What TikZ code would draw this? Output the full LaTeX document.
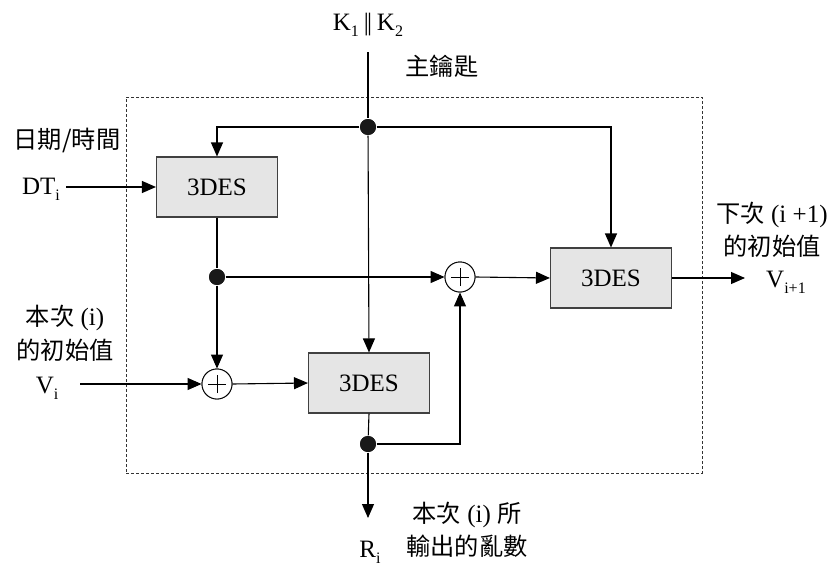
\documentclass[tikz,border=0pt]{standalone}
\usepackage{fontspec}
\setmainfont{Liberation Serif}
\newfontfamily\cjk{Noto Sans CJK TC}[Scale=0.97]
\usetikzlibrary{arrows.meta,calc}
\newcommand\sbs[1]{\raisebox{-0.55ex}{\fontsize{16}{16}\selectfont #1}}
\begin{document}
\begin{tikzpicture}[x=1pt,y=-1pt,
  line width=1.1pt,
  arr/.style={-{Triangle[length=14pt,width=12pt]}},
  desbox/.style={draw=black!75,fill=black!10,minimum width=121pt,minimum height=60pt,inner sep=0pt,font=\fontsize{25}{25}\selectfont},
  xorc/.style={draw,circle,fill=white,minimum size=30pt,inner sep=0pt,line width=0.9pt,
    path picture={\draw[line width=1pt] ([xshift=-9pt]path picture bounding box.center) -- ([xshift=9pt]path picture bounding box.center);
                  \draw[line width=1pt] ([yshift=-9pt]path picture bounding box.center) -- ([yshift=9pt]path picture bounding box.center);}},
  dot/.style={circle,fill=black!90,minimum size=16pt,inner sep=0pt},
  lbl/.style={font=\fontsize{25}{25}\selectfont,inner sep=0pt},
]
\useasboundingbox (0,0) rectangle (831,570);
% dashed frame
\node[draw=black!80,dashed,dash pattern=on 3pt off 2pt,line width=0.8pt,minimum width=576pt,minimum height=376pt,inner sep=0pt] (frame) at (414,285) {};
% blocks
\node[desbox] (b1) at (217,187) {3DES};
\node[desbox] (b2) at (369,383) {3DES};
\node[desbox] (b3) at (611,278) {3DES};
\node[xorc] (x1) at (217,384) {};
\node[xorc] (x2) at (460,277) {};
\node[dot] (dk) at (368,127) {};
\node[dot] (d1) at (217,277) {};
\node[dot] (d2) at (368,444) {};
\coordinate (ktop) at (368,52);
\coordinate (tl) at (217,127);
\coordinate (tr) at (611,127);
\coordinate (dtin) at (66,187);
\coordinate (vin) at (80,384);
\coordinate (vout) at (745,278);
\coordinate (rout) at (368,518);
\coordinate (c2) at (460,444);
% labels
\node[lbl] (k) at (368,25) {K\sbs{1}\kern5pt\textbar\kern-2pt\textbar\kern5pt K\sbs{2}};
\node[lbl] (km) at (442,66) {\cjk 主鑰匙};
\node[lbl] (dt) at (67,140) {\cjk 日期/時間};
\node[lbl] (dti) at (41,189) {DT\sbs{i}};
\node[lbl] (vi1) at (65,318) {\cjk 本次\rmfamily\ (i)};
\node[lbl] (vi2) at (65,350) {\cjk 的初始值};
\node[lbl] (vi) at (47,388) {V\sbs{i}};
\node[lbl] (vo1) at (772,215) {\cjk 下次\rmfamily\ (i +1)};
\node[lbl] (vo2) at (772,246) {\cjk 的初始值};
\node[lbl] (vo) at (786,282) {V\sbs{i+1}};
\node[lbl] (ri) at (370,552) {R\sbs{i}};
\node[lbl] (ro1) at (467,515) {\cjk 本次\rmfamily\ (i) \cjk 所};
\node[lbl] (ro2) at (467,546) {\cjk 輸出的亂數};
% connectors
\draw (ktop) -- (dk);
\draw[arr] (dk) -- (b2.north);
\draw[arr] (dk) -- (tl) -- (b1.north);
\draw[arr] (dk) -- (tr) -- (b3.north);
\draw[arr] (dtin) -- (b1.west);
\draw (b1.south) -- (d1);
\draw[arr] (d1) -- (x1.north);
\draw[arr] (d1) -- (x2.west);
\draw[arr] (x2.east) -- (b3.west);
\draw[arr] (vin) -- (x1.west);
\draw[arr] (x1.east) -- (b2.west);
\draw (b2.south) -- (d2);
\draw[arr] (d2) -- (c2) -- (x2.south);
\draw[arr] (d2) -- (rout);
\draw[arr] (b3.east) -- (vout);
\node[xorc] at (x1) {};
\node[xorc] at (x2) {};
\node[dot] at (dk) {};
\node[dot] at (d1) {};
\node[dot] at (d2) {};
\end{tikzpicture}
\end{document}
